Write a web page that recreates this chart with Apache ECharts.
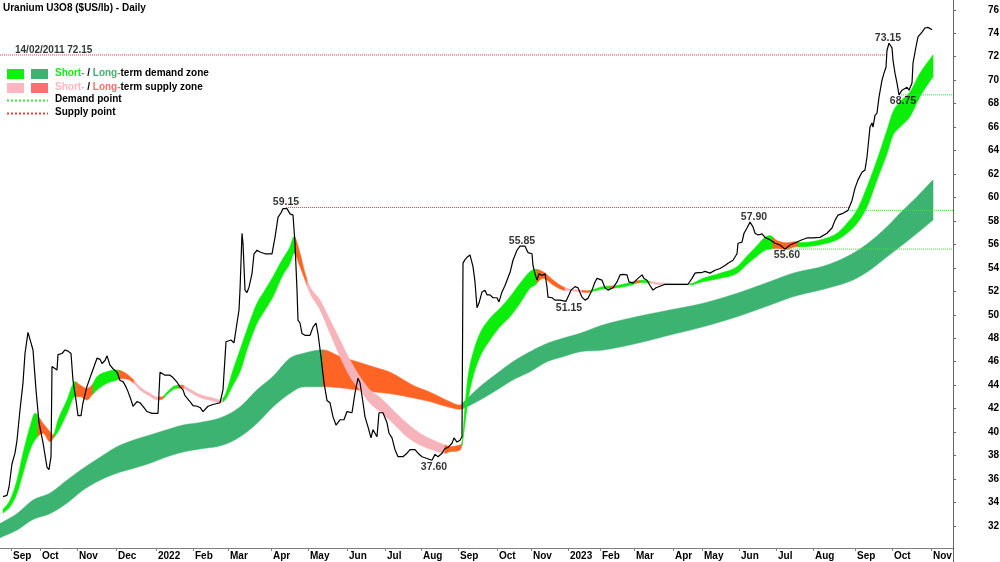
<!DOCTYPE html>
<html><head><meta charset="utf-8">
<script src="https://cdn.jsdelivr.net/npm/echarts@6/dist/echarts.min.js"></script>
<style>html,body{margin:0;padding:0;background:#fff}#c{width:1000px;height:562px}</style>
</head><body><div id="c"></div>
<script>
// ---------- DATA (x = trading-session index, y = $US/lb) ----------
const monthDays = [5.5, 20, 38.5, 58, 78, 96.5, 114, 135.5, 154, 173.5, 192.5, 210.5, 229, 248.5, 265.5, 284, 300, 317, 336.5, 351, 369.5, 388, 406.5, 427.5, 446, 465.5];
const monthLabels = ['Sep','Oct','Nov','Dec','2022','Feb','Mar','Apr','May','Jun','Jul','Aug','Sep','Oct','Nov','2023','Feb','Mar','Apr','May','Jun','Jul','Aug','Sep','Oct','Nov'];
const yTicks = [32, 34, 36, 38, 40, 42, 44, 46, 48, 50, 52, 54, 56, 58, 60, 62, 64, 66, 68, 70, 72, 74, 76];

const priceDays = [1.5,3.5,4.5,6,7.5,8.5,10,11.5,12.5,14,15,16.5,18,19.5,21.5,23.5,24.5,25.5,26,27,28.5,29,31,32.5,34,35.5,36.5,38,39,40.5,41.5,43.5,46,48.5,50,51,52.5,53.5,55,56.5,58.5,60,61.5,63,64,65.5,66.5,68.5,70,71.5,73.5,76,79,80,81,82.5,85,86.5,88.5,90,91.5,92.5,93.5,95,96.5,98.5,100,101.5,104,106.5,110,111.5,113,114,115.5,117,118.5,119.5,120,121,121.5,122.5,123.5,124.5,126,127,128.5,130,132.5,136,137.5,139,140.5,141.5,142.5,143.5,145,146.5,147.5,148.5,149,150,151,152.5,155,156.5,158,159,160.5,162,163.5,165,166.5,168,170,172,173.5,176,177.5,179,180,181.5,182.5,184,185.5,186.5,188.5,189.5,191.5,193.5,194.5,196,197.5,199,201.5,203.5,205,207.5,209,211,213.5,216,217.5,219,221,222.5,224,226,227,228.5,230,231,231.5,232.5,233.5,235,236.5,237.5,238.5,239.5,241,242.5,243.5,245,246.5,248.5,249.5,251,252.5,253.5,255,256.5,258.5,260,262.5,264,266,266.5,267.5,268.5,269.5,271,272.5,273.5,274,276,277.5,280,283,284.5,285.5,287.5,289,291,292.5,294,296,297.5,298.5,301,302.5,304,306.5,308.5,310,311.5,313.5,314.5,316.5,319,321,322,323.5,325,326.5,328,329,331,332.5,344,346,347.5,349,351,352.5,355,357.5,360,362.5,364,366.5,368.5,369,371,372,373.5,375,376.5,377.5,379,381,382.5,385,387.5,390,392.5,395,398.5,401,403.5,406.5,410,413.5,416,417.5,419,421.5,424,426,427.5,429,431,432.5,433.5,434,435,436,436.5,437.5,438.5,439.5,441,442,443,443.5,444.5,446,446.5,447.5,448.5,449.5,451,452,453.5,454.5,456,456.5,458,459,461,462.5,464,466];
const priceValues = [34.5,34.6,35.3,37.3,38.2,39.3,41.9,44.2,46.7,48.5,47.9,47.0,43.6,40.8,39.1,37.0,36.8,37.9,45.6,45.7,45.3,46.6,46.7,47.0,46.9,46.7,44.4,42.7,41.4,41.4,42.5,43.9,45.1,46.3,46.2,45.85,46.1,46.5,45.7,45.4,45.1,44.4,44.3,43.85,43.45,42.75,42.2,42.6,42.5,42.2,41.75,41.6,41.6,45.1,45.0,44.85,44.85,44.65,44.25,43.85,43.6,43.1,43.0,42.6,42.25,42.2,42.1,41.75,42.2,42.35,42.5,43.6,47.7,47.6,47.85,47.6,49.3,50.4,52.1,56.95,56.1,52.1,51.9,52.35,53.5,55.2,55.5,55.35,55.2,55.2,56.6,58.3,58.7,59.05,59.15,59.05,58.6,58.5,56.1,52.1,49.55,49.3,48.4,48.25,48.25,48.95,49.3,48.4,46.4,44.2,42.7,42.5,41.3,40.6,41.05,41.05,41.75,41.65,43.35,44.6,44.2,42.5,41.3,40.45,39.5,40.2,39.6,41.65,41.65,40.8,39.9,39.5,38.5,37.9,37.9,38.2,38.5,38.5,38.2,37.9,37.75,37.6,38.1,37.9,38.2,38.6,38.7,39.05,39.5,39.15,39.3,39.6,54.4,54.7,54.9,55.1,54.1,52.8,50.6,51.0,51.95,52.1,51.7,51.7,51.45,51.45,51.1,51.95,52.5,52.95,53.6,54.65,55.5,55.85,55.85,55.3,55.2,54.2,53.5,52.95,53.5,53.35,53.5,52.35,51.5,51.45,51.25,51.25,51.15,51.7,52.1,52.4,52.3,51.5,51.25,51.4,52.1,52.8,53.1,52.95,52.3,52.1,52.3,52.8,53.4,53.45,53.4,52.8,52.7,53.1,53.4,53.1,52.95,52.5,52.1,52.3,52.35,52.5,52.6,52.6,53.1,53.55,53.6,53.6,53.7,53.55,53.8,53.95,54.2,54.4,54.65,55.2,56.1,56.2,56.95,57.4,57.9,57.5,56.95,56.8,56.9,56.6,56.4,56.1,55.95,55.6,55.95,56.2,56.4,56.55,56.55,56.6,56.95,57.4,58.05,58.5,58.65,58.9,59.75,60.8,61.5,62.15,62.35,63.45,64.3,66.0,66.35,66.0,67.0,67.2,68.55,70.0,70.6,71.1,72.55,73.15,72.75,71.7,70.6,69.75,68.75,69.15,69.0,69.4,69.15,69.75,71.45,72.85,73.7,74.1,74.45,74.5,74.3];

// Short-term zone (low / high edges)
const shortDays = [1.5,5,8.5,11.5,15,17.5,21.5,25,26.5,29,33.5,37.5,40,43.5,46,48.5,53.5,58.5,61.5,66,70,75,78.5,81,83.5,87.5,91,95,100,106.5,110,112.5,116.5,120,124,128.5,132.5,136.5,141,145,147,150,152.5,155,160,165,170,175,180,185,190,196.5,203.5,210,216.5,222.5,225,230,231,232.5,234,236.5,240,245,250,255,260,265,267.5,271.5,276.5,281.5,285,290,293.5,297.5,301.5,305,308.5,315,318.5,321.5,325,331,345,351.5,360,368.5,373.5,378.5,382.5,385,388,393,398,400,413.5,418.5,423.5,428.5,433.5,438.5,443.5,446.5,450,455,460,466.5];
const shortLow = [33.1,33.64,34.78,36.49,38.47,39.32,39.9,39.18,39.45,40.03,41.6,43.02,43.02,42.74,43.16,43.59,44.16,44.44,44.58,44.3,43.6,43.05,42.75,42.8,43.2,43.7,43.75,43.4,42.95,42.65,42.5,42.74,44.01,45.15,47.28,49.27,50.41,51.54,53.25,54.39,55.24,54.1,52.97,51.83,50.41,48.42,46.43,44.72,43.59,42.45,41.75,40.75,39.6,38.9,38.47,38.19,38.33,38.47,38.9,40.75,42.74,44.72,46.43,47.85,48.98,49.84,50.98,52.26,52.54,53.11,52.54,52.11,52.05,51.95,51.9,52.05,52.2,52.25,52.3,52.5,52.7,52.75,52.7,52.55,52.55,52.82,53.11,53.54,54.3,55.0,55.5,55.6,55.66,55.57,55.8,55.8,56.1,56.4,56.95,57.8,59.2,61.5,63.75,65.3,66.0,66.9,68.6,70.3];
const shortHigh = [33.4,34.21,35.91,38.19,40.46,41.6,40.75,40.03,39.75,41.03,42.74,44.3,44.01,43.73,44.01,44.72,45.15,45.29,45.15,44.58,43.85,43.3,43.0,43.0,43.4,43.95,44.0,43.65,43.2,42.9,42.75,43.16,45.29,47.0,48.98,50.98,52.11,53.25,54.67,55.8,56.66,55.24,53.54,52.39,51.26,49.56,47.85,46.15,44.72,43.59,42.95,41.88,40.75,39.9,39.32,38.9,38.76,38.9,39.1,42.17,44.72,46.72,48.42,49.7,50.55,51.54,52.68,53.67,53.88,53.67,52.97,52.39,52.2,52.1,52.05,52.2,52.4,52.45,52.5,52.75,52.9,52.95,52.85,52.7,52.65,53.11,53.54,54.1,55.0,55.9,56.6,56.75,56.38,56.14,56.23,56.15,56.55,56.95,57.8,58.93,60.9,63.2,65.75,67.3,68.15,69.0,70.6,72.15];
// zone state changes: d = demand, o = long-supply colour, p = short supply
const shortBreaks = [0,19,27,38,46.5,59.5,67,79.5,82,89.5,92,111.5,147.5,153.5,222.5,231,268.5,282.5,291,295,305,307.5,318,320,325,345,386.5,399,466.5];
const shortKinds = ['d','o','d','o','d','o','p','o','d','o','p','d','o','p','o','d','o','p','o','d','o','d','o','d','p','d','o','d'];

// Long-term zone
const longDays = [0,8.5,16.5,25,33.5,41.5,50,58.5,66.5,75,83.5,91.5,99.5,111.5,120,128.5,136.5,145,151.5,161.5,170,178.5,186.5,195,207,215,223.5,230,232,240,248.5,256.5,265,273.5,281.5,290,301.5,318.5,335,351.5,368.5,384.5,396.5,413.5,426.5,435,443.5,450,458.5,466.5];
const longLow = [31.0,31.65,32.55,33.05,33.95,35.05,35.9,36.5,36.9,37.35,37.9,38.3,38.55,38.9,39.6,40.75,42.15,43.3,43.85,43.87,43.78,43.6,43.44,43.28,42.9,42.6,42.17,41.95,42.05,42.74,43.6,44.45,45.15,46.0,46.43,46.85,47.0,47.57,48.28,48.98,49.84,50.8,51.54,52.26,52.97,53.82,54.95,55.8,56.95,58.08];
const longHigh = [32.2,33.05,34.2,34.8,35.9,36.9,37.85,38.75,39.3,39.75,40.2,40.6,40.8,41.3,42.15,43.6,44.75,46.3,46.7,47.0,46.45,46.0,45.57,45.1,43.95,43.4,42.7,42.3,42.6,43.87,45.0,46.0,46.85,47.55,48.0,48.42,49.13,49.84,50.41,50.98,51.83,52.8,53.54,54.24,55.24,56.23,57.51,58.65,60.07,61.5];
const longBreaks = [0,161.5,231.5,466.5];
const longKinds = ['D','O','D'];

// Supply / demand points
const supplyLevels = [72.15, 59.15];
const supplyFrom = [0, 143];
const supplyTo = [444, 425];
const demandLevels = [58.9, 55.6, 68.75];
const demandFrom = [425, 392.5, 449.5];
const demandTo = [476.5, 476.5, 476.5];

// Annotated extremes
const extremeDays = [143, 261, 284.5, 217, 377, 393.5, 444, 451.5];
const extremeValues = [59.15, 55.85, 51.15, 37.60, 57.90, 55.60, 73.15, 68.75];
const extremeSide = ['top','top','bottom','bottom','top','bottom','top','bottom'];
const historicLabel = '14/02/2011 72.15';

// ---------- STYLE ----------
const FONT = '"Liberation Sans", Arial, sans-serif';
const C = {
  d: '#0aee0a', D: '#3cb371', p: '#f6b4ba', o: '#ff6424', O: '#ff6424',
  legShort: '#11ee11', legLong: '#3cb371', legPink: '#ffb6c1', legSalmon: '#ff6e6e',
  demandLine: '#44e044', supplyLine: '#e8404a'
};

function monotone(xs, ys) {
  const n = xs.length, dk = [], m = new Array(n);
  for (let i = 0; i < n - 1; i++) dk.push((ys[i+1]-ys[i])/(xs[i+1]-xs[i]));
  m[0] = dk[0]; m[n-1] = dk[n-2];
  for (let i = 1; i < n-1; i++) m[i] = dk[i-1]*dk[i] <= 0 ? 0 : (dk[i-1]+dk[i])/2;
  for (let i = 0; i < n-1; i++) {
    if (dk[i] === 0) { m[i] = 0; m[i+1] = 0; continue; }
    const a = m[i]/dk[i], b = m[i+1]/dk[i], s = a*a + b*b;
    if (s > 9) { const t = 3/Math.sqrt(s); m[i] = t*a*dk[i]; m[i+1] = t*b*dk[i]; }
  }
  return function (x) {
    if (x <= xs[0]) return ys[0];
    if (x >= xs[n-1]) return ys[n-1];
    let i = 0; while (x > xs[i+1]) i++;
    const h = xs[i+1]-xs[i], t = (x-xs[i])/h, t2 = t*t, t3 = t2*t;
    return (2*t3-3*t2+1)*ys[i] + (t3-2*t2+t)*h*m[i] + (-2*t3+3*t2)*ys[i+1] + (t3-t2)*h*m[i+1];
  };
}

function bandSeries(name, days, lo, hi, breaks, kinds, z) {
  const fLo = monotone(days, lo), fHi = monotone(days, hi);
  return {
    name, type: 'custom', z, silent: true, animation: false,
    encode: { x: [0, 1], y: 2 },
    data: kinds.map((k, i) => [breaks[i], breaks[i+1], 0]),
    renderItem: function (params, api) {
      const i = params.dataIndex;
      const a = Math.max(breaks[i], days[0]);
      const b = Math.min(breaks[i+1], days[days.length-1]);
      if (b <= a) return null;
      const top = [], bot = [];
      for (let d = a; ; d += 0.25) {
        const dd = Math.min(d, b);
        top.push(api.coord([dd, fHi(dd)]));
        bot.push(api.coord([dd, fLo(dd)]));
        if (dd >= b) break;
      }
      const col = C[kinds[i]];
      return { type: 'polygon', shape: { points: top.concat(bot.reverse()) },
               style: { fill: col, stroke: col, lineWidth: 0.6 } };
    }
  };
}

const series = [
  bandSeries('long', longDays, longLow, longHigh, longBreaks, longKinds, 1),
  bandSeries('short', shortDays, shortLow, shortHigh, shortBreaks, shortKinds, 2)
];
supplyLevels.forEach((v, i) => series.push({
  type: 'line', z: 3, symbol: 'none', silent: true, animation: false,
  data: [[supplyFrom[i], v], [supplyTo[i], v]],
  lineStyle: { color: C.supplyLine, width: 1, type: 'dotted' }
}));
demandLevels.forEach((v, i) => series.push({
  type: 'line', z: 3, symbol: 'none', silent: true, animation: false,
  data: [[demandFrom[i], v], [demandTo[i], v]],
  lineStyle: { color: C.demandLine, width: 1, type: 'dotted' }
}));
series.push({
  type: 'line', z: 5, symbol: 'none', silent: true, animation: false,
  data: priceDays.map((d, i) => [d, priceValues[i]]),
  lineStyle: { color: '#000', width: 1.2 }
});
series.push({
  type: 'scatter', z: 6, symbolSize: 0, silent: true, animation: false,
  data: extremeDays.map((d, i) => ({
    value: [d, extremeValues[i]],
    label: { position: extremeSide[i], distance: extremeSide[i] === 'top' ? 0 : 1 }
  })),
  label: { show: true, formatter: p => p.value[1].toFixed(2),
           fontFamily: FONT, fontSize: 10.5, fontWeight: 'bold', color: '#000' }
});
series.push({
  type: 'scatter', z: 6, symbolSize: 0, silent: true, animation: false,
  data: [[7.5, supplyLevels[0]]],
  label: { show: true, position: 'top', distance: 0, align: 'left',
           formatter: historicLabel, fontFamily: FONT, fontSize: 10, fontWeight: 'bold', color: '#000' }
});

const legendText = (y, txt, rich) => ({
  type: 'text', left: 55, top: y - 6, z: 10,
  style: { text: txt, fontFamily: FONT, fontSize: 10, fontWeight: 'bold', fill: '#000', rich }
});

const option = {
  animation: false,
  backgroundColor: '#fff',
  title: { text: 'Uranium U3O8 ($US/lb) - Daily', left: 3, top: 3, padding: 0,
           textStyle: { fontFamily: FONT, fontSize: 10, fontWeight: 'bold', color: '#000' } },
  grid: { left: 0, right: 47, top: 0, bottom: 14, containLabel: false, outerBoundsMode: 'none' },
  xAxis: {
    type: 'value', min: 0, max: 476.5, splitLine: { show: false },
    axisLine: { show: true, onZero: false, lineStyle: { color: '#808080', width: 1 } },
    axisTick: { show: true, customValues: monthDays, length: 3, lineStyle: { color: '#808080' } },
    axisLabel: { customValues: monthDays, align: 'left', margin: 3, padding: [0, 0, 0, 2],
                 fontFamily: FONT, fontSize: 10, fontWeight: 'bold', color: '#000',
                 formatter: v => { const i = monthDays.findIndex(d => Math.abs(d - v) < 1e-6); return i >= 0 ? monthLabels[i] : ''; } }
  },
  yAxis: {
    type: 'value', position: 'right', min: 30.118, max: 76.835, splitLine: { show: false },
    axisLine: { show: true, onZero: false, lineStyle: { color: '#666', width: 1 } },
    axisTick: { show: true, customValues: yTicks, length: 3, lineStyle: { color: '#666' } },
    axisLabel: { customValues: yTicks, margin: 35, fontFamily: FONT, fontSize: 10, fontWeight: 'bold', color: '#000' }
  },
  graphic: [
    { type: 'line', z: 10, shape: { x1: 953.5, y1: 548, x2: 953.5, y2: 562 }, style: { stroke: '#666', lineWidth: 1 } },
    { type: 'rect', z: 10, shape: { x: 7, y: 69, width: 17, height: 10 }, style: { fill: C.legShort } },
    { type: 'rect', z: 10, shape: { x: 31, y: 69, width: 17, height: 10 }, style: { fill: C.legLong } },
    { type: 'rect', z: 10, shape: { x: 7, y: 83, width: 17, height: 10 }, style: { fill: C.legPink } },
    { type: 'rect', z: 10, shape: { x: 31, y: 83, width: 17, height: 10 }, style: { fill: C.legSalmon } },
    { type: 'line', z: 10, shape: { x1: 7, y1: 100.5, x2: 48, y2: 100.5 }, style: { stroke: C.demandLine, lineWidth: 2, lineDash: [2, 2] } },
    { type: 'line', z: 10, shape: { x1: 7, y1: 113.5, x2: 48, y2: 113.5 }, style: { stroke: C.supplyLine, lineWidth: 2, lineDash: [2, 2] } },
    legendText(74, '{a|Short-} / {b|Long-}term demand zone', {
      a: { fill: C.legShort, fontFamily: FONT, fontSize: 10, fontWeight: 'bold' },
      b: { fill: C.legLong, fontFamily: FONT, fontSize: 10, fontWeight: 'bold' } }),
    legendText(88, '{a|Short-} / {b|Long-}term supply zone', {
      a: { fill: C.legPink, fontFamily: FONT, fontSize: 10, fontWeight: 'bold' },
      b: { fill: C.legSalmon, fontFamily: FONT, fontSize: 10, fontWeight: 'bold' } }),
    legendText(100.5, 'Demand point'),
    legendText(113.5, 'Supply point')
  ],
  series
};

const chart = echarts.init(document.getElementById('c'), null, { renderer: 'canvas' });
chart.setOption(option);
</script></body></html>
